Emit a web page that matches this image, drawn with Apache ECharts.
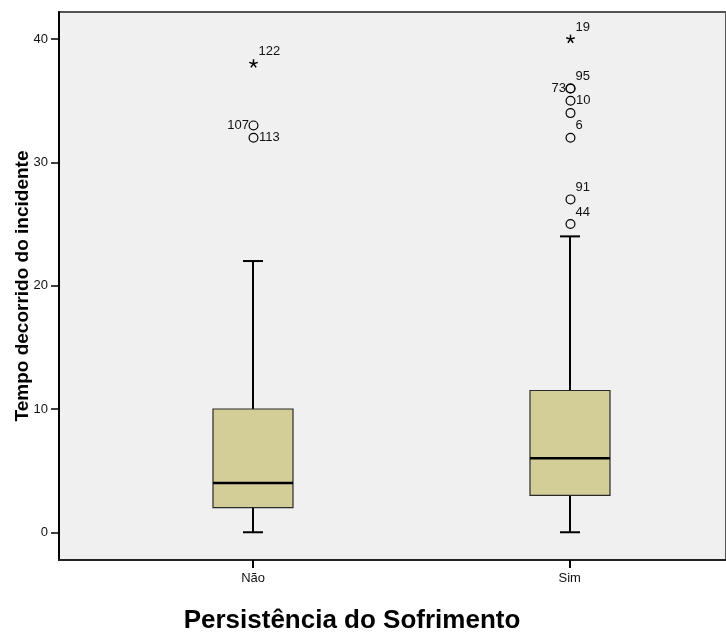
<!DOCTYPE html>
<html>
<head>
<meta charset="utf-8">
<script src="https://cdn.jsdelivr.net/npm/echarts@6/dist/echarts.min.js"></script>
<style>
  html, body { margin: 0; padding: 0; background: #ffffff; }
  #chart { width: 726px; height: 632px; }
</style>
</head>
<body>
<div id="chart"></div>
<script>
// Groups on the horizontal axis
const categories = ['Não', 'Sim'];

// Five-number summaries per group (whisker ends, quartiles, median)
const whiskerLow = [0, 0];
const quartile1 = [2, 3];
const medians = [4, 6];
const quartile3 = [10, 11.5];
const whiskerHigh = [22, 24];

// Outlying cases: group index, value, case number, extreme (*) or not (o)
const outlierGroup = [0, 0, 0, 1, 1, 1, 1, 1, 1, 1, 1];
const outlierValue = [38, 33, 32, 40, 36, 36, 35, 34, 32, 27, 25];
const outlierCase = ['122', '107', '113', '19', '95', '73', '10', '', '6', '91', '44'];
const outlierExtreme = [true, false, false, true, false, false, false, false, false, false, false];

// Tick values on the vertical axis
const yTicks = [0, 10, 20, 30, 40];

// Where each case label sits relative to its marker
const labelSide = {
  '122': 'upRight', '107': 'left', '113': 'right',
  '19': 'upRight', '95': 'upRight', '73': 'left', '10': 'right',
  '6': 'upRight', '91': 'upRight', '44': 'upRight'
};

const FONT = "'Liberation Sans', Arial, Helvetica, sans-serif";
const INK = '#000000';

const boxData = categories.map((c, i) =>
  [i, whiskerLow[i], quartile1[i], medians[i], quartile3[i], whiskerHigh[i]]);

const outlierData = outlierValue.map((v, i) =>
  [outlierGroup[i], v, outlierExtreme[i] ? 1 : 0, outlierCase[i]]);

function renderBox(params, api) {
  const x = api.value(0);
  const lo = api.coord([x, api.value(1)]);
  const q1 = api.coord([x, api.value(2)]);
  const md = api.coord([x, api.value(3)]);
  const q3 = api.coord([x, api.value(4)]);
  const hi = api.coord([x, api.value(5)]);
  const cx = Math.round(lo[0]);
  const hw = 40, cw = 10;
  const stem = { stroke: INK, lineWidth: 2 };
  return {
    type: 'group',
    children: [
      { type: 'line', shape: { x1: cx, y1: hi[1], x2: cx, y2: q3[1] }, style: stem },
      { type: 'line', shape: { x1: cx, y1: q1[1], x2: cx, y2: lo[1] }, style: stem },
      { type: 'line', shape: { x1: cx - cw, y1: hi[1], x2: cx + cw, y2: hi[1] }, style: stem },
      { type: 'line', shape: { x1: cx - cw, y1: lo[1], x2: cx + cw, y2: lo[1] }, style: stem },
      {
        type: 'rect',
        shape: { x: cx - hw, y: q3[1], width: hw * 2, height: q1[1] - q3[1] },
        style: { fill: '#d3ce97', stroke: '#2a2a2a', lineWidth: 1.2 }
      },
      { type: 'line', shape: { x1: cx - hw, y1: md[1], x2: cx + hw, y2: md[1] }, style: { stroke: INK, lineWidth: 2.6 } }
    ]
  };
}

function renderOutlier(params, api) {
  const p = api.coord([api.value(0), api.value(1)]);
  const cx = Math.round(p[0]) + 0.5;
  const cy = p[1];
  const extreme = api.value(2) === 1;
  const id = outlierCase[params.dataIndex];
  const children = [];
  if (extreme) {
    // five-armed asterisk
    const r = 4.5;
    [-90, -18, 54, 126, 198].forEach(a => {
      const rad = a * Math.PI / 180;
      children.push({
        type: 'line',
        shape: { x1: cx, y1: cy, x2: cx + r * Math.cos(rad), y2: cy + r * Math.sin(rad) },
        style: { stroke: INK, lineWidth: 1.5 }
      });
    });
  } else {
    children.push({
      type: 'circle',
      shape: { cx: cx, cy: cy, r: 4.4 },
      style: { fill: 'none', stroke: INK, lineWidth: 1.2 }
    });
  }
  if (id) {
    const side = labelSide[id];
    let tx = cx + 5.5, ty = cy, align = 'left';
    if (side === 'left') { tx = cx - 4.5; align = 'right'; }
    else if (side === 'upRight') { tx = cx + 5; ty = cy - 12; }
    children.push({
      type: 'text',
      x: tx, y: ty,
      style: {
        text: id, fill: '#111', font: '13px ' + FONT,
        align: align, verticalAlign: 'middle'
      }
    });
  }
  return { type: 'group', children: children };
}

const chart = echarts.init(document.getElementById('chart'), null, { renderer: 'canvas' });

chart.setOption({
  animation: false,
  backgroundColor: '#ffffff',
  grid: {
    left: 59, top: 12, width: 670, height: 548,
    show: true, backgroundColor: '#f0f0f0',
    borderColor: '#555555', borderWidth: 2
  },
  xAxis: {
    type: 'value',
    min: -0.6132, max: 1.4937,
    splitLine: { show: false },
    axisLine: { show: true, onZero: false, lineStyle: { color: '#222222', width: 2 } },
    axisTick: { show: true, length: 8, customValues: categories.map((c, i) => i), lineStyle: { color: INK, width: 2 } },
    axisLabel: {
      customValues: categories.map((c, i) => i),
      formatter: v => categories[Math.round(v)] || '',
      color: '#111', fontFamily: FONT, fontSize: 13, margin: 12
    }
  },
  yAxis: {
    type: 'value',
    min: -2.25, max: 42.2,
    splitLine: { show: false },
    axisLine: { show: true, onZero: false, lineStyle: { color: INK, width: 2 } },
    axisTick: { show: true, length: 8, customValues: yTicks, lineStyle: { color: INK, width: 1.5 } },
    axisLabel: {
      customValues: yTicks,
      color: '#111', fontFamily: FONT, fontSize: 13, margin: 11
    }
  },
  graphic: [
    {
      type: 'text', x: 23, y: 286, rotation: Math.PI / 2,
      style: {
        text: 'Tempo decorrido do incidente', fill: '#000',
        font: 'bold 19px ' + FONT, align: 'center', verticalAlign: 'middle'
      }
    },
    {
      type: 'text', x: 352, y: 621,
      style: {
        text: 'Persistência do Sofrimento', fill: '#000',
        font: 'bold 26px ' + FONT, align: 'center', verticalAlign: 'middle'
      }
    }
  ],
  series: [
    {
      type: 'custom', name: 'box',
      renderItem: renderBox,
      data: boxData,
      encode: { x: 0, y: [1, 2, 3, 4, 5] },
      clip: false
    },
    {
      type: 'custom', name: 'outliers',
      renderItem: renderOutlier,
      data: outlierData,
      encode: { x: 0, y: 1 },
      clip: false
    }
  ]
});
</script>
</body>
</html>
